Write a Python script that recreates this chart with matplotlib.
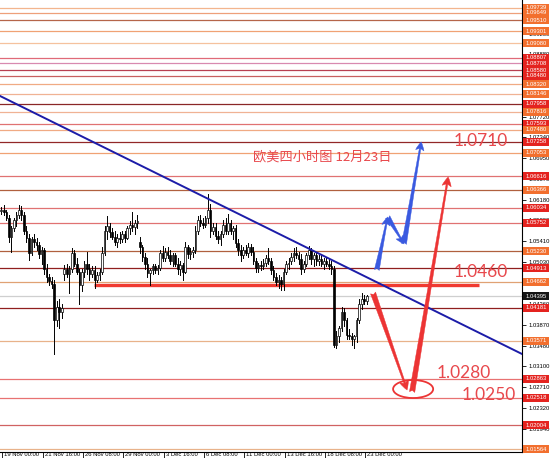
import matplotlib
matplotlib.use('Agg')
import matplotlib.pyplot as plt
from matplotlib.patches import Rectangle, Ellipse
from matplotlib.transforms import blended_transform_factory

# ---------------- data ----------------
first_bar = -1   # bar index of first candle (bar 0 = 19 Nov 00:00, H4)
opens = [1.0598,
    1.0600, 1.0595, 1.0585, 1.0550, 1.0565, 1.0580,
    1.0590, 1.0600, 1.0590, 1.0560, 1.0548, 1.0520,
    1.0545, 1.0540, 1.0535, 1.0518, 1.0525, 1.0490,
    1.0475, 1.0468, 1.0462, 1.0395, 1.0420, 1.0410,
    1.0480, 1.0490, 1.0480, 1.0490, 1.0520, 1.0500,
    1.0485, 1.0460, 1.0485, 1.0500, 1.0490, 1.0480,
    1.0488, 1.0470, 1.0478, 1.0485, 1.0520, 1.0560,
    1.0570, 1.0558, 1.0550, 1.0540, 1.0548, 1.0545,
    1.0555, 1.0548, 1.0565, 1.0572, 1.0568, 1.0575,
    1.0540, 1.0530, 1.0512, 1.0500, 1.0482, 1.0488,
    1.0495, 1.0488, 1.0492, 1.0520, 1.0510, 1.0522,
    1.0515, 1.0505, 1.0515, 1.0500, 1.0490, 1.0498,
    1.0485, 1.0530, 1.0518, 1.0522, 1.0525, 1.0560,
    1.0580, 1.0575, 1.0572, 1.0585, 1.0600, 1.0560,
    1.0568, 1.0552, 1.0545, 1.0555, 1.0572, 1.0560,
    1.0575, 1.0560, 1.0565, 1.0538, 1.0525, 1.0515,
    1.0525, 1.0520, 1.0530, 1.0522, 1.0505, 1.0492,
    1.0497, 1.0495, 1.0502, 1.0510, 1.0505, 1.0488,
    1.0475, 1.0465, 1.0470, 1.0462, 1.0485, 1.0500,
    1.0505, 1.0512, 1.0520, 1.0515, 1.0508, 1.0490,
    1.0500, 1.0515, 1.0525, 1.0508, 1.0515, 1.0505,
    1.0508, 1.0500, 1.0505, 1.0500, 1.0495, 1.0490,
    1.0350, 1.0365, 1.0380, 1.0410, 1.0395, 1.0368,
    1.0365, 1.0360, 1.0365, 1.0395, 1.0425, 1.0435,
    1.0430]
highs = [1.0605,
    1.0608, 1.0600, 1.0590, 1.0570, 1.0585, 1.0595,
    1.0609, 1.0606, 1.0595, 1.0570, 1.0555, 1.0550,
    1.0555, 1.0548, 1.0540, 1.0530, 1.0528, 1.0500,
    1.0480, 1.0475, 1.0470, 1.0430, 1.0435, 1.0425,
    1.0498, 1.0500, 1.0495, 1.0528, 1.0525, 1.0510,
    1.0490, 1.0490, 1.0505, 1.0522, 1.0500, 1.0495,
    1.0495, 1.0485, 1.0490, 1.0530, 1.0570, 1.0588,
    1.0575, 1.0565, 1.0560, 1.0555, 1.0558, 1.0560,
    1.0560, 1.0570, 1.0578, 1.0596, 1.0580, 1.0590,
    1.0550, 1.0535, 1.0520, 1.0510, 1.0490, 1.0500,
    1.0500, 1.0498, 1.0525, 1.0532, 1.0528, 1.0530,
    1.0525, 1.0520, 1.0520, 1.0510, 1.0505, 1.0502,
    1.0540, 1.0535, 1.0528, 1.0530, 1.0570, 1.0588,
    1.0590, 1.0585, 1.0588, 1.0628, 1.0610, 1.0575,
    1.0575, 1.0560, 1.0560, 1.0580, 1.0585, 1.0592,
    1.0580, 1.0570, 1.0572, 1.0545, 1.0535, 1.0530,
    1.0535, 1.0538, 1.0536, 1.0530, 1.0510, 1.0502,
    1.0505, 1.0508, 1.0515, 1.0528, 1.0510, 1.0495,
    1.0482, 1.0478, 1.0475, 1.0490, 1.0505, 1.0510,
    1.0520, 1.0528, 1.0530, 1.0522, 1.0518, 1.0505,
    1.0520, 1.0532, 1.0528, 1.0520, 1.0522, 1.0515,
    1.0515, 1.0510, 1.0512, 1.0510, 1.0505, 1.0495,
    1.0375, 1.0385, 1.0420, 1.0418, 1.0400, 1.0378,
    1.0372, 1.0368, 1.0400, 1.0435, 1.0445, 1.0442,
    1.0442]
lows = [1.0592,
    1.0590, 1.0580, 1.0540, 1.0522, 1.0560, 1.0570,
    1.0585, 1.0580, 1.0555, 1.0540, 1.0507, 1.0515,
    1.0530, 1.0525, 1.0510, 1.0500, 1.0480, 1.0465,
    1.0460, 1.0455, 1.0332, 1.0385, 1.0380, 1.0400,
    1.0470, 1.0475, 1.0445, 1.0485, 1.0495, 1.0480,
    1.0425, 1.0450, 1.0475, 1.0480, 1.0470, 1.0475,
    1.0455, 1.0465, 1.0470, 1.0480, 1.0515, 1.0545,
    1.0550, 1.0545, 1.0535, 1.0530, 1.0538, 1.0540,
    1.0540, 1.0545, 1.0555, 1.0560, 1.0555, 1.0565,
    1.0520, 1.0505, 1.0490, 1.0475, 1.0460, 1.0480,
    1.0482, 1.0480, 1.0488, 1.0505, 1.0505, 1.0510,
    1.0500, 1.0495, 1.0495, 1.0480, 1.0478, 1.0470,
    1.0482, 1.0510, 1.0508, 1.0512, 1.0520, 1.0555,
    1.0570, 1.0565, 1.0568, 1.0575, 1.0550, 1.0555,
    1.0545, 1.0538, 1.0535, 1.0550, 1.0555, 1.0555,
    1.0555, 1.0545, 1.0530, 1.0515, 1.0505, 1.0510,
    1.0515, 1.0512, 1.0515, 1.0500, 1.0485, 1.0485,
    1.0488, 1.0490, 1.0495, 1.0500, 1.0480, 1.0470,
    1.0460, 1.0455, 1.0452, 1.0451, 1.0480, 1.0490,
    1.0500, 1.0505, 1.0510, 1.0500, 1.0480, 1.0485,
    1.0495, 1.0508, 1.0500, 1.0495, 1.0498, 1.0498,
    1.0495, 1.0490, 1.0495, 1.0490, 1.0480, 1.0345,
    1.0343, 1.0355, 1.0375, 1.0385, 1.0360, 1.0360,
    1.0350, 1.0343, 1.0355, 1.0390, 1.0415, 1.0425,
    1.0425]
closes = [1.0600,
    1.0595, 1.0585, 1.0550, 1.0565, 1.0580, 1.0590,
    1.0600, 1.0590, 1.0560, 1.0548, 1.0520, 1.0545,
    1.0540, 1.0535, 1.0518, 1.0525, 1.0490, 1.0475,
    1.0468, 1.0462, 1.0395, 1.0420, 1.0410, 1.0418,
    1.0490, 1.0480, 1.0490, 1.0520, 1.0500, 1.0485,
    1.0460, 1.0485, 1.0500, 1.0490, 1.0480, 1.0488,
    1.0470, 1.0478, 1.0485, 1.0520, 1.0560, 1.0570,
    1.0558, 1.0550, 1.0540, 1.0548, 1.0545, 1.0555,
    1.0548, 1.0565, 1.0572, 1.0568, 1.0575, 1.0578,
    1.0530, 1.0512, 1.0500, 1.0482, 1.0488, 1.0495,
    1.0488, 1.0492, 1.0520, 1.0510, 1.0522, 1.0515,
    1.0505, 1.0515, 1.0500, 1.0490, 1.0498, 1.0485,
    1.0530, 1.0518, 1.0522, 1.0525, 1.0560, 1.0580,
    1.0575, 1.0572, 1.0585, 1.0600, 1.0560, 1.0568,
    1.0552, 1.0545, 1.0555, 1.0572, 1.0560, 1.0575,
    1.0560, 1.0565, 1.0538, 1.0525, 1.0515, 1.0525,
    1.0520, 1.0530, 1.0522, 1.0505, 1.0492, 1.0497,
    1.0495, 1.0502, 1.0510, 1.0505, 1.0488, 1.0475,
    1.0465, 1.0470, 1.0462, 1.0485, 1.0500, 1.0500,
    1.0512, 1.0520, 1.0515, 1.0508, 1.0490, 1.0500,
    1.0515, 1.0525, 1.0508, 1.0515, 1.0505, 1.0508,
    1.0500, 1.0505, 1.0500, 1.0495, 1.0490, 1.0350,
    1.0365, 1.0380, 1.0410, 1.0395, 1.0368, 1.0365,
    1.0360, 1.0365, 1.0395, 1.0425, 1.0435, 1.0430,
    1.04395]

# horizontal levels (price, label-box kind, line colour)
levels = [1.09739, 1.09649, 1.09510, 1.09301, 1.09080, 1.08807, 1.08708,
          1.08580, 1.08480, 1.08320, 1.08146, 1.07958, 1.07816, 1.07593,
          1.07480, 1.07258, 1.07053, 1.06616, 1.06366, 1.06034, 1.05752,
          1.05230, 1.04913, 1.04662, 1.04181, 1.03571, 1.02863, 1.02518,
          1.02004, 1.01564]
level_kind = ['o', 'o', 'o', 'o', 'o', 'r', 'r',
              'r', 'r', 'o', 'o', 'r', 'o', 'r',
              'o', 'r', 'o', 'r', 'o', 'r', 'r',
              'o', 'r', 'o', 'r', 'o', 'r', 'r',
              'r', 'o']
level_line = ['#f3b58e', '#eea07a', '#b5654a', '#f0a274', '#f5c29e', '#e06a78', '#d88ab0',
              '#b84052', '#c86060', '#f0aa84', '#f0b294', '#8a2626', '#f0b294', '#e07272',
              '#f0aa84', '#922828', '#f0a274', '#e07272', '#b0603e', '#e07272', '#e07272',
              '#b0603e', '#901e1e', '#e0a274', '#901e1e', '#e8b28a', '#e87272', '#e87272',
              '#d06262', '#e8b28a']
current_price = 1.04395
support_level = 1.0460
support_span = [35.8, 188.6]

tick_values = [1.09650, 1.09260, 1.08880, 1.08490, 1.08110, 1.07720, 1.07340,
               1.06950, 1.06570, 1.06180, 1.05800, 1.05410, 1.05030, 1.04650,
               1.04260, 1.03870, 1.03480, 1.03100, 1.02710, 1.02320, 1.01940]
tick_labels = ['1.09650', '1.09260', '1.08880', '1.08490', '1.08110', '1.07720', '1.07340',
               '1.06950', '1.06570', '1.06180', '1.05800', '1.05410', '1.05030', '1.04650',
               '1.04260', '1.03870', '1.03480', '1.03100', '1.02710', '1.02320', '1.01940']

time_bars = [0, 16, 32, 48, 64, 80, 96, 112, 128, 144]
time_labels = ['19 Nov 00:00', '21 Nov 16:00', '26 Nov 08:00', '29 Nov 00:00',
               '3 Dec 16:00', '6 Dec 08:00', '11 Dec 00:00', '13 Dec 16:00',
               '18 Dec 08:00', '23 Dec 00:00']

# trend line (bar, price)
trend_x = [-1.51, 205.6]
trend_y = [1.08104, 1.03326]

# blue zig-zag path (bar, price)
blue_x = [148.0, 152.3, 158.8, 165.6]
blue_y = [1.04882, 1.05863, 1.05363, 1.07252]
# red scenario path
red_down_x = [146.5, 160.0]
red_down_y = [1.04456, 1.02659]
red_up_x = [162.0, 176.3]
red_up_y = [1.02622, 1.06604]
circle_xy = (162.4, 1.02677)
circle_w, circle_h = 15.9, 0.00333

notes = ['1.0710', '1.0460', '1.0280', '1.0250']
notes_x = [178.3, 178.3, 171.9, 181.8]
notes_y = [1.0727, 1.04844, 1.02974, 1.02567]
title_text = '欧美四小时图 12月23日'
title_xy = (126.3, 1.06974)

SMALL = ['Liberation Sans', 'DejaVu Sans']

# ---------------- figure ----------------
fig = plt.figure(figsize=(5.5, 4.58), dpi=100)
ax = fig.add_axes([0, 6 / 458, 522 / 550, 452 / 458])
ax.set_xlim(-1.51, 205.6)
ax.set_ylim(1.01511, 1.09881)
for s in ['left', 'top']:
    ax.spines[s].set_visible(False)
for s in ['right', 'bottom']:
    ax.spines[s].set_color('black')
    ax.spines[s].set_linewidth(0.8)

ytr = blended_transform_factory(ax.transAxes, ax.transData)
RED_BOX = '#e4231f'
ORG_BOX = '#f26f2e'

# level lines
for p, c in zip(levels, level_line):
    ax.axhline(p, color=c, lw=0.9, zorder=1)
ax.axhline(current_price, color='#cfcfcf', lw=0.9, zorder=1)
ax.plot(support_span, [support_level, support_level], color='#f03a30', lw=2.4, zorder=3,
        solid_capstyle='butt')

# candles
for i, (o, h, l, c) in enumerate(zip(opens, highs, lows, closes)):
    x = first_bar + i
    ax.plot([x, x], [l, h], color='black', lw=0.7, zorder=4)
    bottom = min(o, c)
    height = max(abs(c - o), 0.00005)
    fc = 'white' if c >= o else 'black'
    ax.add_patch(Rectangle((x - 0.32, bottom), 0.64, height, facecolor=fc,
                           edgecolor='black', lw=0.5, zorder=5))

# trend line
ax.plot(trend_x, trend_y, color='#1c1ca8', lw=1.4, zorder=6)

# y ticks on right
ax.yaxis.tick_right()
ax.set_yticks(tick_values)
ax.set_yticklabels(tick_labels, family=SMALL)
ax.tick_params(axis='y', length=3, width=0.6, pad=1.5, labelsize=4.2, colors='black')
ax.set_axisbelow(True)

# level boxes
box_w = 26 / 522
box_h = 0.00148
for p, k in zip(levels, level_kind):
    col = RED_BOX if k == 'r' else ORG_BOX
    ax.add_patch(Rectangle((1.002, p - box_h / 2), box_w, box_h, transform=ytr,
                           facecolor=col, edgecolor='none', clip_on=False, zorder=10))
    ax.text(1.002 + box_w / 2, p, f'{p:.5f}', transform=ytr, ha='center', va='center',
            fontsize=4.2, family=SMALL, color='white', clip_on=False, zorder=11)
ax.add_patch(Rectangle((1.002, current_price - box_h / 2), box_w, box_h, transform=ytr,
                       facecolor='#161616', edgecolor='none', clip_on=False, zorder=10))
ax.text(1.002 + box_w / 2, current_price, f'{current_price:.5f}', transform=ytr,
        ha='center', va='center', fontsize=4.2, family=SMALL, color='white',
        clip_on=False, zorder=11)

# time axis
xtr = blended_transform_factory(ax.transData, ax.transAxes)
ax.set_xticks([b - 0.6 for b in time_bars])
ax.set_xticklabels([''] * len(time_bars))
ax.tick_params(axis='x', length=5, width=0.6, direction='out')
for b, lab in zip(time_bars, time_labels):
    ax.text(b + 0.2, -0.001, lab, transform=xtr, ha='left', va='top', fontsize=4.2,
            family=SMALL, color='black', clip_on=False)

# arrows
BLUE = '#3a5ae0'
RED = '#ec3434'
style = 'fancy,head_length=0.55,head_width=0.55,tail_width=0.32'
for j in range(len(blue_x) - 1):
    ax.annotate('', xy=(blue_x[j + 1], blue_y[j + 1]), xytext=(blue_x[j], blue_y[j]),
                arrowprops=dict(arrowstyle=style, color=BLUE, mutation_scale=11,
                                shrinkA=0, shrinkB=0, lw=0.3), zorder=8)
ax.annotate('', xy=(red_down_x[1], red_down_y[1]), xytext=(red_down_x[0], red_down_y[0]),
            arrowprops=dict(arrowstyle=style, color=RED, mutation_scale=12,
                            shrinkA=0, shrinkB=0, lw=0.3), zorder=8)
ax.annotate('', xy=(red_up_x[1], red_up_y[1]), xytext=(red_up_x[0], red_up_y[0]),
            arrowprops=dict(arrowstyle=style, color=RED, mutation_scale=12,
                            shrinkA=0, shrinkB=0, lw=0.3), zorder=8)
ax.add_patch(Ellipse(circle_xy, circle_w, circle_h, fill=False, edgecolor=RED, lw=1.3,
                     zorder=8))

# texts
for t, x, y in zip(notes, notes_x, notes_y):
    ax.text(x, y, t, ha='left', va='center', fontsize=12.5, color='#e8484c',
            family=['Lato', 'DejaVu Sans'], fontweight='normal', zorder=9)
ax.text(title_xy[0], title_xy[1], title_text, ha='center', va='center', fontsize=9.5,
        color='#e8484c', family=['Noto Sans CJK SC', 'DejaVu Sans'], zorder=9)

fig.savefig('out.png', dpi=100)
